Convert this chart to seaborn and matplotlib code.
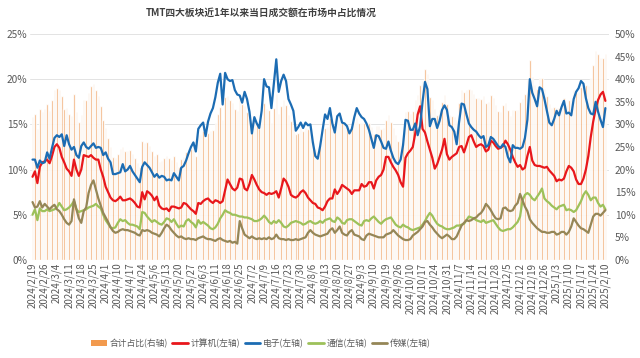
import numpy as np
import pandas as pd
import seaborn as sns
import matplotlib.pyplot as plt
from matplotlib.patches import Patch
from matplotlib.lines import Line2D
from matplotlib.ticker import FuncFormatter

sns.set_theme(style="white")
plt.rcParams['font.family'] = ['Noto Sans CJK SC', 'DejaVu Sans']

title = "TMT四大板块近1年以来当日成交额在市场中占比情况"

# one tick every 5 trading days
tick_labels = [
    "2024/2/19", "2024/2/26", "2024/3/4", "2024/3/11", "2024/3/18", "2024/3/25",
    "2024/4/1", "2024/4/10", "2024/4/17", "2024/4/24", "2024/5/6", "2024/5/13",
    "2024/5/20", "2024/5/27", "2024/6/3", "2024/6/11", "2024/6/18", "2024/6/25",
    "2024/7/2", "2024/7/9", "2024/7/16", "2024/7/23", "2024/7/30", "2024/8/6",
    "2024/8/13", "2024/8/20", "2024/8/27", "2024/9/3", "2024/9/10", "2024/9/19",
    "2024/9/26", "2024/10/10", "2024/10/17", "2024/10/24", "2024/10/31", "2024/11/7",
    "2024/11/14", "2024/11/21", "2024/11/28", "2024/12/5", "2024/12/12", "2024/12/19",
    "2024/12/26", "2025/1/3", "2025/1/10", "2025/1/17", "2025/1/24", "2025/2/10",
]

# 电子 (left axis, %)
dianzi = [
    11.1, 11.1, 10.2, 11.0, 10.7, 10.8, 11.9, 11.2, 12.4, 13.5,
    13.8, 13.6, 13.9, 12.6, 13.8, 12.8, 12.2, 12.5, 11.6, 11.3,
    12.6, 13.0, 12.5, 12.3, 12.6, 12.9, 12.4, 12.5, 12.4, 11.6,
    11.9, 11.2, 10.8, 9.5, 9.5, 9.6, 9.7, 10.6, 9.8, 10.0,
    10.4, 9.8, 9.4, 9.0, 8.6, 10.3, 10.8, 10.5, 10.2, 9.7,
    9.2, 9.5, 9.1, 9.3, 9.2, 8.8, 8.9, 8.8, 9.6, 9.2,
    8.8, 10.2, 10.4, 11.0, 11.8, 12.5, 13.0, 12.0, 14.5, 14.9,
    15.2, 13.7, 15.3, 16.2, 16.8, 18.0, 19.6, 20.6, 17.2, 20.7,
    20.0, 19.8, 19.9, 18.8, 18.3, 18.2, 17.4, 18.6, 17.8, 16.4,
    14.0, 15.8, 15.1, 14.6, 16.5, 20.0, 19.2, 19.1, 16.8, 19.5,
    22.2, 18.6, 19.8, 20.5, 19.8, 17.8, 17.2, 16.5, 14.3, 14.7,
    15.2, 14.6, 15.2, 14.9, 15.0, 13.0, 11.5, 11.2, 12.6, 14.4,
    16.1, 15.6, 16.8, 15.1, 14.1, 15.9, 16.2, 15.2, 15.1, 14.8,
    14.0, 14.5, 15.8, 16.8, 16.2, 15.8, 15.6, 15.1, 14.4, 13.4,
    12.4, 13.8, 13.7, 13.1, 12.4, 12.3, 13.1, 12.1, 11.3, 10.8,
    10.6, 11.1, 12.7, 15.5, 15.4, 14.4, 14.4, 15.1, 13.8, 14.8,
    17.5, 19.7, 18.9, 14.8, 15.6, 15.6, 14.6, 15.4, 16.6, 17.1,
    16.6, 14.9, 14.7, 14.2, 12.8, 15.3, 17.3, 17.2, 16.1, 15.1,
    14.7, 14.4, 14.2, 13.8, 13.5, 13.7, 12.5, 12.7, 13.6, 13.4,
    13.0, 12.6, 12.4, 12.8, 12.5, 11.4, 10.8, 12.7, 12.4, 12.4,
    12.3, 12.5, 13.5, 15.5, 20.0, 18.5, 17.8, 17.0, 19.1, 18.9,
    17.8, 16.5, 15.2, 14.9, 15.6, 16.5, 16.0, 16.9, 17.6, 16.2,
    16.3, 16.0, 17.8, 18.6, 19.0, 19.8, 19.5, 17.9, 16.8, 16.2,
    16.1, 17.5, 16.4, 15.5, 14.7, 16.8,
]

# 计算机 (left axis, %)
jisuanji = [
    9.2, 9.8, 8.5, 10.3, 10.8, 10.9, 11.1, 10.7, 11.5, 12.5,
    12.8, 12.4, 11.4, 10.8, 10.1, 9.8, 9.3, 11.1, 10.0, 9.3,
    10.0, 11.6, 11.5, 11.4, 11.6, 11.3, 11.1, 11.1, 10.0, 9.2,
    8.1, 7.5, 6.9, 6.6, 6.5, 6.7, 7.0, 6.6, 6.6, 6.7,
    6.8, 6.6, 6.3, 5.9, 5.8, 7.5, 6.7, 7.6, 7.4, 7.1,
    6.6, 7.0, 6.0, 5.7, 5.6, 5.7, 5.4, 5.9, 5.9, 5.8,
    5.7, 5.8, 6.3, 6.2, 5.9, 5.6, 5.4, 5.1, 6.3, 6.2,
    6.5, 6.7, 6.8, 6.5, 6.3, 6.6, 6.5, 6.3, 6.5, 7.7,
    8.9, 8.4, 7.9, 7.7, 8.0, 9.0, 8.9, 7.9, 7.7, 8.4,
    9.4, 8.9, 8.3, 7.8, 7.5, 7.4, 7.2, 7.4, 7.3, 7.4,
    7.6, 6.9, 7.9, 9.0, 8.7, 8.1, 7.2, 7.0, 6.9, 7.1,
    7.5, 7.7, 7.4, 6.9, 6.6, 6.3, 6.2, 5.8, 5.7, 5.5,
    5.9, 6.5, 6.8, 6.8, 7.8, 7.3, 7.7, 8.3, 8.1, 7.9,
    7.7, 7.3, 7.7, 7.7, 7.7, 8.4, 8.1, 8.2, 8.6, 8.6,
    7.9, 8.8, 9.2, 9.4, 10.0, 11.4, 11.4, 10.8, 10.3, 9.9,
    9.4, 8.6, 8.1, 11.3, 11.8, 12.1, 12.5, 14.0, 16.1, 17.0,
    14.5, 14.1, 13.1, 12.2, 11.3, 10.1, 10.6, 11.4, 12.2, 13.4,
    11.7, 11.1, 11.4, 11.6, 11.8, 12.5, 12.6, 11.9, 12.7, 13.6,
    13.8, 13.1, 12.5, 12.7, 12.8, 12.6, 12.0, 12.2, 13.2, 13.0,
    12.6, 12.3, 12.4, 12.6, 13.2, 12.8, 12.2, 11.4, 10.8, 10.3,
    10.5, 10.0, 10.2, 11.5, 12.5, 11.0, 10.5, 10.4, 10.4, 10.3,
    10.2, 10.3, 9.9, 9.6, 9.3, 8.7, 8.9, 8.8, 9.0, 9.8,
    10.4, 10.2, 9.8, 8.9, 8.4, 8.4, 9.0, 10.0, 11.5, 13.6,
    15.3, 16.7, 17.7, 18.3, 18.6, 17.6,
]

# 通信 (left axis, %)
tongxin = [
    5.0, 5.6, 4.4, 5.7, 5.4, 5.4, 5.6, 5.4, 5.5, 5.6,
    5.8, 6.3, 5.9, 5.5, 5.6, 5.8, 6.1, 6.5, 5.6, 5.3,
    5.4, 5.5, 5.6, 5.8, 5.9, 6.0, 6.2, 5.9, 5.7, 5.0,
    4.4, 4.0, 3.6, 3.5, 3.6, 4.1, 4.5, 4.3, 4.4, 4.1,
    3.9, 3.9, 3.8, 3.7, 3.4, 5.3, 5.2, 4.8, 4.5, 4.2,
    4.4, 4.2, 4.0, 3.9, 4.2, 4.6, 4.5, 4.2, 4.5, 4.0,
    3.6, 3.8, 3.7, 4.3, 4.5, 4.2, 4.0, 3.6, 4.4, 4.0,
    4.2, 4.0, 3.8, 3.5, 3.4, 3.6, 4.0, 4.6, 5.0, 5.5,
    5.3, 5.2, 5.0, 5.0, 4.9, 4.8, 4.8, 4.7, 4.7, 4.6,
    4.5, 4.3, 4.3, 4.4, 4.6, 4.9, 4.6, 4.2, 4.0, 4.3,
    4.1, 4.4, 4.1, 3.7, 3.6, 3.8, 4.1, 4.2, 4.3, 4.2,
    4.1, 3.9, 4.0, 4.2, 4.3, 4.1, 4.0, 4.1, 4.3, 4.1,
    4.4, 4.5, 4.6, 4.3, 4.2, 4.7, 4.5, 4.1, 4.0, 4.4,
    4.5, 4.5, 4.3, 4.1, 3.9, 3.8, 4.3, 4.4, 4.3, 4.6,
    4.8, 4.5, 4.2, 4.0, 4.3, 4.5, 4.6, 4.7, 4.3, 3.9,
    3.7, 3.6, 3.9, 3.7, 3.6, 3.4, 3.3, 3.4, 3.5, 3.6,
    3.9, 4.3, 4.8, 5.2, 4.9, 4.4, 4.0, 3.8, 3.7, 3.5,
    3.4, 3.4, 3.5, 3.6, 3.8, 3.8, 3.9, 4.0, 4.4, 4.8,
    4.7, 4.6, 4.4, 4.3, 4.2, 4.4, 4.1, 4.2, 4.3, 4.4,
    4.0, 3.6, 3.3, 3.2, 3.3, 3.4, 3.4, 3.6, 3.9, 4.2,
    4.8, 6.6, 7.2, 7.4, 7.2, 6.8, 6.6, 7.0, 7.4, 7.9,
    6.8, 6.5, 6.3, 6.0, 5.8, 5.6, 5.9, 6.0, 6.1, 5.5,
    5.6, 5.5, 5.3, 5.5, 6.0, 6.5, 7.2, 7.6, 7.2, 6.6,
    6.9, 6.9, 6.3, 5.9, 6.1, 5.6,
]

# 传媒 (left axis, %)
chuanmei = [
    6.4, 5.8, 5.9, 6.5, 5.8, 6.2, 5.9, 5.6, 5.9, 6.1,
    5.6, 5.4, 5.0, 4.5, 4.1, 3.9, 4.3, 6.7, 5.6, 4.6,
    4.1, 5.4, 5.8, 7.4, 8.3, 8.8, 7.8, 6.8, 6.0, 5.2,
    4.7, 4.2, 3.6, 3.2, 3.0, 3.1, 3.3, 3.4, 3.3, 3.3,
    3.2, 3.1, 3.0, 2.8, 2.7, 3.3, 3.2, 3.3, 3.2, 3.0,
    2.9, 2.8, 2.6, 3.0, 3.5, 3.9, 3.7, 3.3, 3.0, 2.7,
    2.5, 2.6, 2.4, 2.3, 2.4, 2.3, 2.3, 2.2, 2.4, 2.5,
    2.6, 2.4, 2.3, 2.3, 2.2, 2.1, 2.3, 2.4, 2.2, 2.1,
    2.0, 2.1, 1.9, 2.0, 1.8, 4.3, 3.5, 2.8, 2.6, 2.4,
    2.6, 2.4, 2.3, 2.4, 2.3, 2.4, 2.3, 2.5, 2.3, 2.4,
    2.8, 2.4, 2.3, 2.3, 2.2, 2.3, 2.2, 2.2, 2.3, 2.2,
    2.3, 2.4, 2.5, 3.0, 3.3, 3.0, 2.8, 2.7, 2.6, 2.7,
    2.8, 2.9, 3.3, 3.5, 3.0, 3.3, 3.7, 3.0, 2.8, 2.7,
    3.1, 3.3, 2.8, 2.7, 2.6, 2.3, 2.2, 2.7, 2.9, 2.8,
    2.7, 2.6, 2.5, 2.5, 2.5, 2.8, 2.9, 3.0, 3.3, 3.0,
    2.7, 2.5, 2.3, 2.2, 2.2, 2.3, 2.7, 2.9, 3.1, 3.4,
    3.7, 4.2, 4.3, 3.9, 3.6, 3.2, 2.9, 2.6, 2.4, 2.6,
    2.8, 2.6, 2.3, 2.3, 2.6, 3.2, 3.8, 4.1, 4.4, 4.3,
    4.4, 4.6, 4.7, 5.0, 5.2, 5.6, 6.2, 5.9, 5.5, 5.0,
    4.6, 4.5, 4.6, 5.7, 5.8, 5.5, 5.4, 5.5, 6.0, 6.3,
    7.3, 6.6, 5.9, 5.4, 4.5, 4.1, 3.8, 3.5, 3.3, 3.1,
    3.1, 3.0, 3.0, 3.1, 3.1, 2.8, 2.9, 3.1, 3.1, 2.8,
    3.1, 3.7, 4.6, 4.2, 3.8, 3.5, 3.4, 3.2, 3.0, 3.9,
    4.8, 5.1, 5.1, 4.9, 5.2, 5.5,
]

# 合计占比 (right axis, %)
heji = [
    31.7, 32.3, 29.0, 33.5, 32.7, 33.3, 34.5, 32.9, 35.3, 37.7,
    38.0, 37.7, 36.2, 33.4, 33.6, 32.3, 31.9, 36.8, 32.8, 30.5,
    32.1, 35.5, 35.4, 36.9, 38.4, 39.0, 37.5, 36.3, 34.1, 31.0,
    29.1, 26.9, 24.9, 22.8, 22.6, 23.5, 24.5, 24.9, 24.1, 24.1,
    24.3, 23.4, 22.5, 21.4, 20.5, 26.4, 25.9, 26.2, 25.3, 24.0,
    23.1, 23.5, 21.7, 21.9, 22.5, 23.0, 22.5, 22.2, 23.0, 21.7,
    20.6, 22.4, 22.8, 23.8, 24.6, 24.6, 24.7, 22.9, 27.6, 27.6,
    28.5, 26.8, 28.2, 28.5, 28.7, 30.3, 32.4, 33.9, 30.9, 36.0,
    36.2, 35.5, 34.7, 33.5, 33.0, 36.3, 34.6, 34.0, 32.8, 31.8,
    30.5, 31.4, 30.0, 29.2, 30.9, 34.7, 33.3, 33.2, 30.4, 33.6,
    36.7, 32.3, 34.1, 35.5, 34.3, 32.0, 30.7, 29.9, 27.8, 28.2,
    29.1, 28.6, 29.1, 29.0, 29.2, 26.4, 24.5, 23.8, 25.2, 26.7,
    29.2, 29.5, 31.5, 29.7, 29.1, 31.2, 32.1, 30.6, 30.0, 29.8,
    29.3, 29.6, 30.6, 31.3, 30.4, 30.3, 30.2, 30.4, 30.2, 29.4,
    27.8, 29.7, 29.6, 29.0, 29.2, 31.0, 32.0, 30.6, 29.2, 27.6,
    26.4, 25.8, 27.0, 32.7, 33.0, 32.2, 32.9, 35.4, 36.5, 38.8,
    39.6, 42.3, 41.1, 36.1, 35.4, 33.3, 32.1, 33.2, 34.9, 36.6,
    34.5, 32.0, 31.9, 31.7, 31.0, 34.8, 37.6, 37.2, 37.6, 37.8,
    37.6, 36.7, 35.8, 35.8, 35.7, 36.3, 34.8, 35.0, 36.6, 35.8,
    34.2, 33.0, 32.7, 34.3, 34.8, 33.1, 31.8, 33.2, 33.1, 33.2,
    34.9, 35.7, 36.8, 39.8, 44.2, 40.4, 38.7, 37.9, 40.2, 40.2,
    37.9, 36.3, 34.4, 33.6, 33.8, 33.6, 33.7, 34.8, 35.8, 34.3,
    35.4, 35.4, 37.5, 37.2, 37.2, 38.2, 39.1, 38.7, 38.5, 40.3,
    43.1, 46.2, 45.5, 44.6, 44.6, 45.5,
]

names = ["计算机(左轴)", "电子(左轴)", "通信(左轴)", "传媒(左轴)"]
colors = ["#E8171C", "#1C6CB3", "#9DC15A", "#958657"]
bar_color = "#EF9D58"

days = np.arange(len(heji))
lines = pd.DataFrame({
    "day": np.tile(days, 4),
    "value": jisuanji + dianzi + tongxin + chuanmei,
    "series": np.repeat(names, len(days)),
})

fig = plt.figure(figsize=(6.4, 3.58), dpi=100)
ax_r = fig.add_axes([0.047, 0.274, 0.905, 0.631])

for g in range(10, 51, 10):
    ax_r.axhline(g, color="#E3E3E3", lw=0.7, zorder=0)

sns.barplot(x=days, y=heji, ax=ax_r, color=bar_color, width=0.6,
            native_scale=True, saturation=1, errorbar=None, alpha=0.85, zorder=2)
ax_r.set_ylim(0, 50)
ax_r.set_xlim(-1, 236.6)

ax_l = ax_r.twinx()
sns.lineplot(data=lines, x="day", y="value", hue="series", hue_order=names,
             palette=colors, linewidth=1.6, legend=False, ax=ax_l)
ax_l.set_ylim(0, 25)

# twinx moves the original ticks to the left, so place both sides afterwards
ax_r.yaxis.set_ticks_position("right")
ax_r.yaxis.set_label_position("right")
ax_l.yaxis.set_ticks_position("left")
ax_l.yaxis.set_label_position("left")
ax_r.set_yticks(range(0, 51, 5))
ax_l.set_yticks(range(0, 26, 5))
pct = FuncFormatter(lambda v, p: f"{v:.0f}%")
ax_r.yaxis.set_major_formatter(pct)
ax_l.yaxis.set_major_formatter(pct)

ax_r.set_xticks(range(0, len(days), 5))
ax_r.set_xticklabels(tick_labels, rotation=90)

for a in (ax_r, ax_l):
    a.set_xlabel("")
    a.set_ylabel("")
    for s in a.spines.values():
        s.set_visible(False)
    a.tick_params(axis="both", length=0, labelsize=7.3, colors="#595959", pad=2)
ax_r.tick_params(axis="x", labelsize=7, pad=2)
ax_r.tick_params(axis="y", pad=4)

fig.text(0.408, 0.963, title, ha="center", va="center", fontsize=7,
         fontweight="bold", color="#404040")

handles = [Patch(facecolor="#F29A4E", edgecolor="none")] + [
    Line2D([], [], color=c, lw=2) for c in colors]
labels = ["合计占比(右轴)"] + names
fig.legend(handles, labels, loc="center", bbox_to_anchor=(0.408, 0.04), ncol=5,
           frameon=False, fontsize=6.3, handlelength=1.8, handletextpad=0.3,
           columnspacing=0.5, labelcolor="#595959")

plt.savefig("out.png", dpi=100)
